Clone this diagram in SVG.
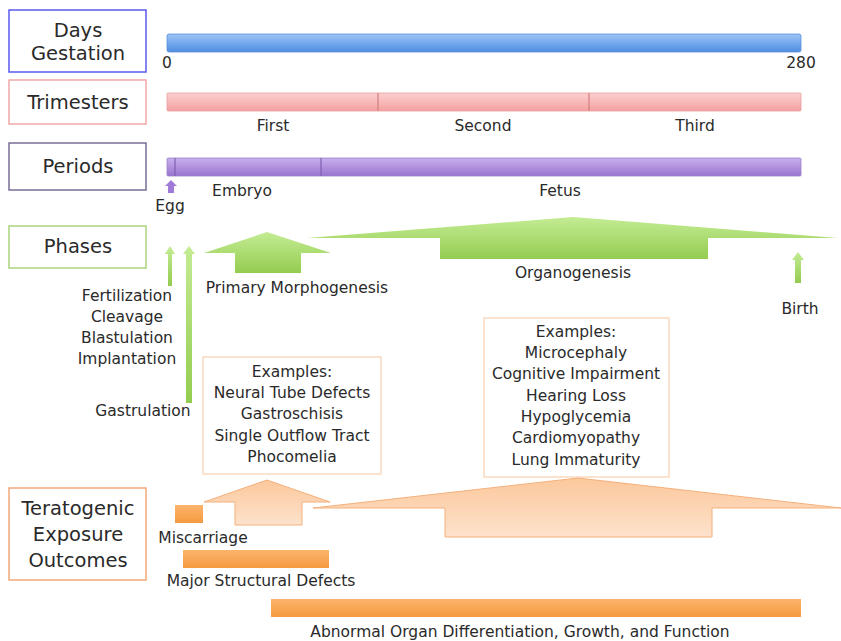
<svg xmlns="http://www.w3.org/2000/svg" width="841" height="641" viewBox="0 0 841 641">
<style>
text{font-family:"DejaVu Sans","Liberation Sans",Arial,sans-serif;fill:#2a2a2a;text-anchor:middle}
.lbl{font-size:15.5px}
.big{font-size:19.5px}
.box{fill:#fff;stroke-width:1.5}
</style>
<defs>
<linearGradient id="gBlue" x1="0" y1="0" x2="0" y2="1"><stop offset="0" stop-color="#9cc4f8"/><stop offset="1" stop-color="#4f8ee0"/></linearGradient>
<linearGradient id="gPink" x1="0" y1="0" x2="0" y2="1"><stop offset="0" stop-color="#fcd0d0"/><stop offset="1" stop-color="#f4a0a0"/></linearGradient>
<linearGradient id="gPurple" x1="0" y1="0" x2="0" y2="1"><stop offset="0" stop-color="#c8b0ec"/><stop offset="1" stop-color="#9a74d0"/></linearGradient>
<linearGradient id="gGreen" x1="0" y1="0" x2="0" y2="1"><stop offset="0" stop-color="#c4ec94"/><stop offset="1" stop-color="#94cc50"/></linearGradient>
<linearGradient id="gOrange" x1="0" y1="0" x2="0" y2="1"><stop offset="0" stop-color="#fbb46c"/><stop offset="1" stop-color="#f59a40"/></linearGradient>
<linearGradient id="gPeach" x1="0" y1="0" x2="0" y2="1"><stop offset="0" stop-color="#fcc89c"/><stop offset="1" stop-color="#fde2cc"/></linearGradient>
</defs>

<g id="labels">
<g id="days-box"><rect class="box" x="9" y="10" width="137" height="62" stroke="#5a5af0"/><text class="big" x="78" y="37">Days</text><text class="big" x="78" y="60">Gestation</text></g>
<g id="trimesters-box"><rect class="box" x="9" y="80" width="137" height="44" stroke="#f0a8a8"/><text class="big" x="78" y="109">Trimesters</text></g>
<g id="periods-box"><rect class="box" x="9" y="143" width="137" height="47" stroke="#7a6e98"/><text class="big" x="78" y="173">Periods</text></g>
<g id="phases-box"><rect class="box" x="9" y="226" width="137" height="42" stroke="#a8d47c"/><text class="big" x="78" y="253">Phases</text></g>
<g id="terato-box"><rect class="box" x="9" y="488" width="137" height="92" stroke="#f2a878"/><text class="big" x="78" y="515">Teratogenic</text><text class="big" x="78" y="541">Exposure</text><text class="big" x="78" y="567">Outcomes</text></g>
</g>

<g id="days">
<rect x="167" y="34" width="634" height="18" rx="2" fill="url(#gBlue)" stroke="#5a90d8" stroke-width="0.8"/>
<text class="lbl" x="167" y="68">0</text>
<text class="lbl" x="801" y="68">280</text>
</g>

<g id="trimesters">
<rect x="167" y="93" width="634" height="18" rx="1" fill="url(#gPink)" stroke="#e8a0a0" stroke-width="0.8"/>
<line x1="378" y1="93" x2="378" y2="111" stroke="#d08080" stroke-width="1.2"/>
<line x1="589" y1="93" x2="589" y2="111" stroke="#d08080" stroke-width="1.2"/>
<text class="lbl" x="273" y="131">First</text>
<text class="lbl" x="483" y="131">Second</text>
<text class="lbl" x="695" y="131">Third</text>
</g>

<g id="periods">
<rect x="167" y="158" width="634" height="18" rx="1" fill="url(#gPurple)" stroke="#9a80c8" stroke-width="0.8"/>
<line x1="175" y1="158" x2="175" y2="176" stroke="#8060b0" stroke-width="1.2"/>
<line x1="321" y1="158" x2="321" y2="176" stroke="#8060b0" stroke-width="1.2"/>
<polygon points="171,180 177,186 174,186 174,193 168,193 168,186 165,186" fill="#a07ad8"/>
<text class="lbl" x="170" y="211">Egg</text>
<text class="lbl" x="242" y="196">Embryo</text>
<text class="lbl" x="560" y="196">Fetus</text>
</g>

<g id="phases">
<polygon points="170,246 175,254 172,254 172,286 168,286 168,254 165,254" fill="url(#gGreen)"/>
<polygon points="189,246 195,254 192,254 192,403 186,403 186,254 183,254" fill="url(#gGreen)"/>
<polygon points="267,232 331,253 301,253 301,273 235,273 235,253 204,253" fill="url(#gGreen)"/>
<polygon points="573,217 838,238 708,238 708,259 440,259 440,238 307,238" fill="url(#gGreen)"/>
<polygon points="798,252 804,260 801,260 801,283 795,283 795,260 792,260" fill="url(#gGreen)"/>
<text class="lbl" x="127" y="301">Fertilization</text>
<text class="lbl" x="127" y="322">Cleavage</text>
<text class="lbl" x="127" y="343">Blastulation</text>
<text class="lbl" x="127" y="364">Implantation</text>
<text class="lbl" x="143" y="416">Gastrulation</text>
<text class="lbl" x="297" y="293">Primary Morphogenesis</text>
<text class="lbl" x="573" y="278">Organogenesis</text>
<text class="lbl" x="800" y="314">Birth</text>
</g>

<g id="examples1">
<rect x="203" y="357" width="178" height="117" fill="#fff" stroke="#f8d0b0" stroke-width="1.2"/>
<text class="lbl" x="292" y="377">Examples:</text>
<text class="lbl" x="292" y="398">Neural Tube Defects</text>
<text class="lbl" x="292" y="419">Gastroschisis</text>
<text class="lbl" x="292" y="441">Single Outflow Tract</text>
<text class="lbl" x="292" y="462">Phocomelia</text>
</g>

<g id="examples2">
<rect x="484" y="318" width="185" height="159" fill="#fff" stroke="#f8d0b0" stroke-width="1.2"/>
<text class="lbl" x="576" y="337">Examples:</text>
<text class="lbl" x="576" y="358">Microcephaly</text>
<text class="lbl" x="576" y="379">Cognitive Impairment</text>
<text class="lbl" x="576" y="401">Hearing Loss</text>
<text class="lbl" x="576" y="422">Hypoglycemia</text>
<text class="lbl" x="576" y="443">Cardiomyopathy</text>
<text class="lbl" x="576" y="465">Lung Immaturity</text>
</g>

<g id="outcomes">
<polygon points="267,480 330,502 302,502 302,525 235,525 235,502 204,502" fill="url(#gPeach)" stroke="#f4b07c" stroke-width="1"/>
<polygon points="578,478 841,508 712,508 712,537 445,537 445,508 313,508" fill="url(#gPeach)" stroke="#f4b07c" stroke-width="1"/>
<rect x="175" y="505" width="28" height="18" fill="url(#gOrange)"/>
<text class="lbl" x="203" y="543">Miscarriage</text>
<rect x="183" y="550" width="146" height="18" fill="url(#gOrange)"/>
<text class="lbl" x="261" y="586">Major Structural Defects</text>
<rect x="271" y="599" width="530" height="18" fill="url(#gOrange)"/>
<text class="lbl" x="520" y="637">Abnormal Organ Differentiation, Growth, and Function</text>
</g>
</svg>
